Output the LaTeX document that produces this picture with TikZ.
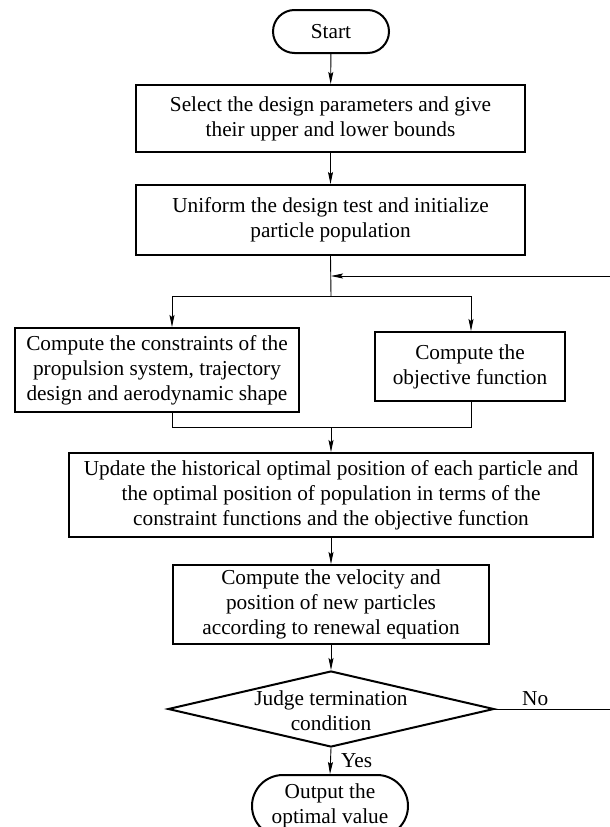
\documentclass[tikz,border=0pt]{standalone}
\usepackage{fontspec}
\setmainfont{Liberation Serif}
\usetikzlibrary{arrows.meta,shapes.misc,shapes.geometric}
\newcommand\flowfont{\fontsize{21.3}{25}\selectfont}
\begin{document}
\begin{tikzpicture}[x=1pt,y=-1pt,
  box/.style={draw, line width=2pt, align=center, inner sep=0pt, font=\flowfont},
  term/.style={rounded rectangle, draw, line width=2pt, align=center, inner sep=0pt, font=\flowfont},
  conn/.style={line width=0.9pt},
  arr/.style={conn, -{Stealth[length=12pt,width=5pt,inset=2pt]}},
  lbl/.style={font=\flowfont, inner sep=0pt}]
\useasboundingbox (0,0) rectangle (610,827);
\clip (0,0) rectangle (610,827);
\fill[white] (0,0) rectangle (610,827);

\node[term, minimum width=116pt, minimum height=43pt] (start) at (331,31.5) {Start};
\node[box, minimum width=389pt, minimum height=67pt] (b1) at (330.5,118.5)
  {Select the design parameters and give\\their upper and lower bounds};
\node[box, minimum width=389pt, minimum height=70pt] (b2) at (330.5,220)
  {Uniform the design test and initialize\\particle population};
\node[box, minimum width=284pt, minimum height=84pt] (lb) at (157,370)
  {Compute the constraints of the\\propulsion system, trajectory\\design and aerodynamic shape};
\node[box, minimum width=190pt, minimum height=69pt] (rb) at (470,366.5)
  {Compute the\\objective function};
\node[box, minimum width=524pt, minimum height=84pt] (b3) at (331,495)
  {Update the historical optimal position of each particle and\\the optimal position of population in terms of the\\constraint functions and the objective function};
\node[box, minimum width=316pt, minimum height=79pt] (b4) at (331,604.5)
  {Compute the velocity and\\position of new particles\\according to renewal equation};
\node[diamond, draw, line width=2pt, minimum width=326pt, minimum height=76pt, inner sep=0pt] (judge) at (331,709) {};
\node[lbl, align=center] (judgetxt) at (331,711) {Judge termination\\condition};
\node[term, minimum width=156pt, minimum height=62pt] (out) at (330,806)
  {Output the\\optimal value};

\coordinate (split) at (331,296);
\coordinate (splitL) at (172,296);
\coordinate (splitR) at (471,296);
\coordinate (fbstart) at (610,276);
\coordinate (fbend) at (331,276);
\coordinate (mergeL) at (172,427);
\coordinate (mergeR) at (471,427);
\coordinate (merge) at (331,427);
\coordinate (noend) at (610,709);

\draw[arr] (start) -- (b1);
\draw[arr] (b1) -- (b2);
\draw[conn] (b2.south) -- (split);
\draw[arr] (fbstart) -- (fbend);
\draw[conn] (splitL) -- (splitR);
\draw[arr] (splitL) -- (splitL |- lb.north);
\draw[arr] (splitR) -- (splitR |- rb.north);
\draw[conn] (mergeL |- lb.south) -- (mergeL) -- (mergeR) -- (mergeR |- rb.south);
\draw[arr] (merge) -- (b3);
\draw[arr] (b3) -- (b4);
\draw[arr] (b4) -- (judge.north);
\draw[conn] (judge.east) -- (noend);
\node[lbl, anchor=south west] (no) at (522,706) {No};
\draw[arr] (judge.south) -- (out.north);
\node[lbl, anchor=west] (yes) at (341,761) {Yes};
\end{tikzpicture}
\end{document}
